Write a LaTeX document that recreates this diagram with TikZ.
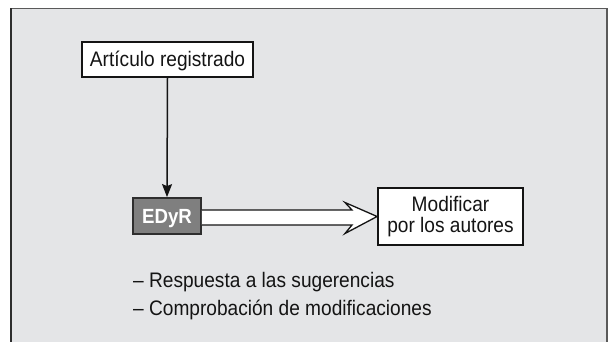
\documentclass[tikz,border=0pt]{standalone}
\usepackage{fontspec}
\setmainfont{Liberation Sans}[FakeStretch=0.91]
\usetikzlibrary{arrows.meta}
\definecolor{panel}{HTML}{E4E5E7}
\definecolor{framedark}{HTML}{2E2E2E}
\definecolor{frametop}{HTML}{5A5A5A}
\definecolor{edyrfill}{HTML}{7F7F7F}
\definecolor{ink}{HTML}{141414}
\tikzset{
  whitebox/.style={draw=ink, line width=1.8pt, fill=white, inner sep=0pt, text=ink,
    font=\fontsize{21}{21.5}\selectfont},
  graybox/.style={draw=framedark, line width=1.8pt, fill=edyrfill, inner sep=0pt, text=white,
    font=\fontsize{20.5}{21}\selectfont\bfseries},
  notetext/.style={inner sep=0pt, anchor=base west, text=ink, font=\fontsize{21}{21}\selectfont},
  connector/.style={draw=ink, line width=1.5pt, -{Stealth[length=13pt,width=10pt,inset=2pt]}},
}
\begin{document}
\begin{tikzpicture}[x=1pt,y=-1pt]
\useasboundingbox (0,0) rectangle (608,342);
% panel
\fill[panel] (11,8.5) rectangle (607,342);
\draw[frametop, line width=1.8pt] (11,8.5) -- (607,8.5);
\draw[framedark, line width=1.8pt] (11,342) -- (11,8.5);
\draw[frametop, line width=1.5pt] (607,8.5) -- (607,342);
% nodes
\node[whitebox, minimum width=171pt, minimum height=35pt, text height=15pt, text depth=0pt]
  (art) at (167.5,59.5) {Artículo registrado};
\node[graybox, minimum width=68pt, minimum height=36pt, text height=14pt, text depth=0pt]
  (edyr) at (167,216) {EDyR};
\node[whitebox, minimum width=145pt, minimum height=57pt, align=center]
  (mod) at (450.5,216.5) {Modificar\\por los autores};
\node[notetext] (n1) at (133,287.3) {– Respuesta a las sugerencias};
\node[notetext] (n2) at (133,315.7) {– Comprobación de modificaciones};
% connectors
\draw[connector] (art.south) -- (edyr.north);
\coordinate (tip) at (mod.west);
\draw[ink, line width=1.3pt, fill=white, line join=miter]
  ([yshift=6pt]edyr.east) -- (352,210) -- (345,202.5) -- (tip)
  -- (345,233.5) -- (352,225) -- ([yshift=-9pt]edyr.east);
\end{tikzpicture}
\end{document}
